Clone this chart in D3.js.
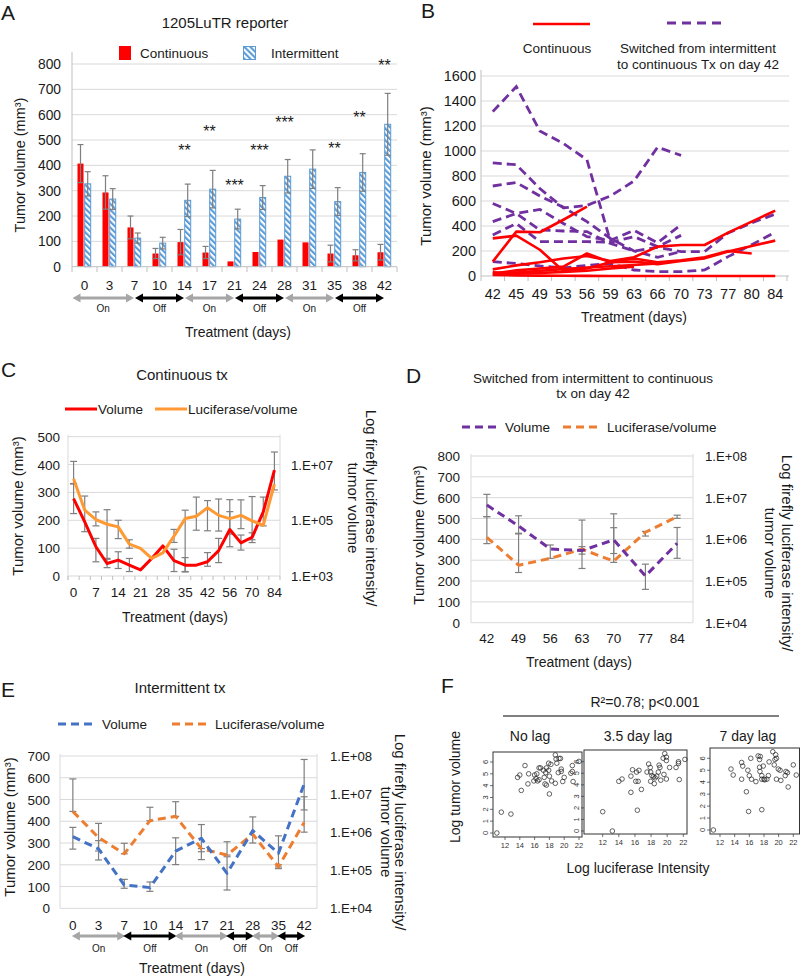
<!DOCTYPE html>
<html><head><meta charset="utf-8">
<script src="https://cdn.jsdelivr.net/npm/d3@7"></script>
<style>
body{margin:0;background:#fff;}
svg{display:block;font-family:"Liberation Sans",Arial,sans-serif;}
</style></head><body>
<svg id="c" width="800" height="980"></svg>
<script>
// ---------------- DATA ----------------
// Panel A
const daysA = ["0","3","7","10","14","17","21","24","28","31","35","38","42"];
const contMean = [407,293,155,52,97,56,21,58,107,96,52,45,57];
const contErr  = [75,66,45,20,50,24,0,0,0,0,33,22,31];
const intMean  = [327,267,113,93,262,306,188,273,357,385,257,372,562];
const intErr   = [48,41,20,23,64,74,39,47,66,76,55,74,122];
const starsA = [
  {day:"14",label:"**",v:471},{day:"17",label:"**",v:549},{day:"21",label:"***",v:335},
  {day:"24",label:"***",v:474},{day:"28",label:"***",v:581},{day:"35",label:"**",v:482},
  {day:"38",label:"**",v:601},{day:"42",label:"**",v:807}];
const phasesA = [{from:"0",to:"7",label:"On"},{from:"7",to:"14",label:"Off"},{from:"14",to:"21",label:"On"},
  {from:"21",to:"28",label:"Off"},{from:"28",to:"35",label:"On"},{from:"35",to:"42",label:"Off"}];
const ticksA = [0,100,200,300,400,500,600,700,800];

// Panel B
const daysB = ["42","45","49","53","56","59","63","66","70","73","77","80","84"];
const switchedLines = [
  [1315,1515,1160,1060,930,275,null,null,null,null,null,null,null],
  [905,890,700,545,565,640,760,1030,965,null,null,null,null],
  [720,748,640,550,435,300,200,150,195,null,null,null,null],
  [580,500,368,360,355,260,200,230,195,195,345,425,495],
  [435,500,533,420,315,285,365,265,410,null,null,null,null],
  [328,420,275,275,275,270,315,235,325,null,null,null,null],
  [115,100,80,65,85,100,48,35,35,48,155,250,350]
];
const continuousLines = [
  [115,355,350,450,555,null,null,null,null,null,null,null,null],
  [301,323,210,40,60,110,140,110,125,150,200,180,null],
  [53,85,110,140,160,120,150,235,248,248,347,435,523],
  [20,45,60,75,180,110,115,95,120,141,195,240,283],
  [10,28,42,55,68,78,88,100,null,null,null,null,null],
  [8,5,3,2,1,0,0,0,0,0,0,0,0],
  [30,22,25,32,42,60,75,null,null,null,null,null,null]
];
const ticksB = [0,200,400,600,800,1000,1200,1400,1600];

// Panel C
const daysC = ["0","3","7","10","14","17","21","24","28","31","35","38","42","49","56","63","70","77","84"];
const volC = [278,194,105,45,57,39,22,63,108,55,39,39,51,91,167,119,139,230,380];
const volErrC = [[224,332],[159,287],[51,135],[30,60],[27,87],[16,63],null,null,null,[16,96],[16,66],null,[35,84],[48,135],[105,231],[93,147],[120,155],null,[309,445]];
const lucC = [3.1e6,2.3e5,1.05e5,7.2e4,5.8e4,1.4e4,9.8e3,4.3e3,6.8e3,2.7e4,1.15e5,1.4e5,2.8e5,1.5e5,1.15e5,1.5e5,9.5e4,6.6e4,2.0e6];
const lucErrC = [[2.0e6,1.3e7],null,[6.3e4,2.0e5],[4.3e3,2.4e5],[2.2e4,1.0e5],[1.0e4,2.0e4],null,null,null,[1.6e4,4.7e4],[1.4e3,2.3e5],[4.4e4,6.8e5],[4.2e4,5.1e5],[4.1e4,5.8e5],[3.2e4,5.5e5],[5.0e4,5.4e5],[2.0e4,7.1e5],[6.3e4,6.8e5],null];
const ticksC = [0,100,200,300,400,500];
const ticksCR = [1e3,1e5,1e7];

// Panel D
const daysD = ["42","49","56","63","70","77","84"];
const volD = [565,464,354,346,398,224,381];
const volErrD = [[509,616],[426,513],[309,373],[329,365],[332,456],[160,281],[309,457]];
const lucD = [1.12e6,2.4e5,3.5e5,5.8e5,3.0e5,1.48e6,3.5e6];
const lucErrD = [[7.9e5,3.5e6],[1.6e5,1.4e6],null,[2.0e5,2.9e6],[2.8e5,4.1e6],[1.2e6,1.55e6],[3.2e6,3.8e6]];
const ticksD = [0,100,200,300,400,500,600,700,800];
const ticksDR = [1e4,1e5,1e6,1e7,1e8];

// Panel E
const daysE = ["0","3","7","10","14","17","21","28","35","42"];
const volE = [329,273,107,95,263,322,161,357,253,571];
const volErrE = [[272,372],[222,311],[92,133],[78,121],[201,324],[260,385],[84,237],[300,420],[190,333],[452,684]];
const lucE = [3.5e6,7.2e5,2.7e5,2.0e6,2.6e6,3.7e5,2.5e5,8.9e5,1.23e5,1.8e6];
const lucErrE = [[3.5e6,2.5e7],[3.2e5,1.7e6],[2.7e5,5.1e5],[2.0e6,4.5e6],[2.6e6,6.3e6],[1.9e5,3.7e5],[2.5e5,5.6e5],null,[1.1e5,1.4e5],[1.0e6,8.5e6]];
const phasesE = [{from:"0",to:"7",label:"On"},{from:"7",to:"14",label:"Off"},{from:"14",to:"21",label:"On"},
  {from:"21",to:"28",label:"Off"},{from:"28",to:"35",label:"On"},{from:"35",to:"42",label:"Off"}];
const ticksE = [0,100,200,300,400,500,600,700];
const ticksER = [1e4,1e5,1e6,1e7,1e8];

// Panel F (log luciferase intensity, log tumor volume)
const fNoLag = [[10.9,0],[11.5,1.76],[12.8,1.6],[13.7,4.7],[14.0,4.9],[14.2,3.6],[14.7,5.7],[15.2,5.0],[15.1,4.15],[15.9,4.4],[16.0,4.9],[16.3,5.0],[16.2,4.6],[16.4,4.4],[16.6,5.5],[16.8,5.5],[16.6,4.5],[17.2,5.3],[17.3,4.7],[17.5,5.1],[17.6,5.5],[17.4,4.15],[17.6,4.05],[17.9,5.9],[17.9,5.3],[18.0,4.8],[18.0,3.3],[18.2,5.8],[18.3,4.4],[18.8,6.6],[18.9,6.25],[19.0,5.9],[18.8,4.2],[19.2,5.1],[19.3,6.3],[19.5,6.3],[19.6,5.4],[19.6,5.2],[19.8,4.35],[20.0,4.7],[20.9,5.05],[21.1,5.7],[21.1,5.2],[21.2,4.35],[22.0,6.05]];
const fLag35 = [[12.0,1.67],[13.2,0],[14.0,4.3],[14.4,4.5],[15.5,3.35],[15.5,4.75],[15.7,5.3],[16.1,4.3],[16.3,1.8],[16.4,4.3],[16.2,5.1],[16.5,5.25],[16.8,3.6],[17.5,5.1],[17.7,5.8],[17.9,5.5],[17.95,5.1],[18.1,4.8],[17.95,4.3],[18.3,4.7],[18.4,4.1],[18.5,4.6],[18.7,4.75],[18.9,5.1],[19.0,5.7],[19.1,5.5],[19.2,4.4],[19.5,6.3],[19.6,4.9],[19.7,6.7],[19.9,6.4],[19.9,6.1],[19.9,4.5],[20.3,5.5],[21.1,5.5],[21.4,6.0],[21.4,5.85],[21.5,4.45],[22.2,6.2]];
const fLag7 = [[11.1,0],[13.5,5.1],[13.8,4.6],[14.95,5.65],[15.1,5.35],[14.95,4.25],[15.6,3.2],[15.9,1.55],[15.8,5.0],[16.0,4.55],[16.2,6.0],[16.3,4.25],[16.9,4.05],[17.2,6.2],[17.4,5.9],[17.4,5.25],[17.45,4.9],[17.5,6.15],[17.7,4.55],[17.7,4.25],[17.7,1.7],[17.9,5.35],[18.0,4.25],[18.1,4.2],[18.4,4.25],[18.6,4.55],[18.7,5.7],[19.2,6.55],[19.4,5.45],[19.5,5.9],[19.6,6.3],[19.7,6.0],[19.7,4.25],[19.95,5.1],[20.2,5.0],[20.3,4.15],[20.9,4.55],[21.0,4.9],[21.2,4.8],[21.3,3.6],[22.0,5.45],[22.4,4.6]];
const fTicksX = [12,14,16,18,20,22];
const fTicksY = [0,1,2,3,4,5,6];

// ---------------- DRAWING ----------------
const svg = d3.select("#c");
svg.append("rect").attr("width",800).attr("height",980).attr("fill","#fff");
const TXT = "#1a1a1a", GRID = "#d9d9d9", AX = "#bfbfbf", ERR = "#7f7f7f";
const RED = "#ff0000", PURPLE = "#7030a0", ORANGE_L = "#ff9933", ORANGE = "#ed7d31", BLUE = "#4472c4", LBLUE = "#5b9bd5";

const defs = svg.append("defs");
const pat = defs.append("pattern").attr("id","hatch").attr("patternUnits","userSpaceOnUse")
  .attr("width",4.2).attr("height",4.2).attr("patternTransform","rotate(-45)");
pat.append("rect").attr("width",4.2).attr("height",4.2).attr("fill","#fff");
pat.append("rect").attr("width",2.1).attr("height",4.2).attr("fill",LBLUE);

function text(g, x, y, s, size, anchor, opts={}) {
  const t = g.append("text").attr("x",x).attr("y",y).attr("font-size",size)
    .attr("text-anchor",anchor||"start").attr("fill",opts.fill||TXT).text(s);
  return t;
}
function rotText(g, x, y, s, size, angle) {
  return g.append("text").attr("transform",`translate(${x},${y}) rotate(${angle})`)
    .attr("text-anchor","middle").attr("font-size",size).attr("fill",TXT).text(s);
}
function arrow(g, xa, xb, y, color) {
  const h = 4.6, L = 8;
  g.append("line").attr("x1",xa+L-1).attr("x2",xb-L+1).attr("y1",y).attr("y2",y)
    .attr("stroke",color).attr("stroke-width",3.2);
  g.append("path").attr("d",`M${xa},${y}L${xa+L},${y-h}L${xa+L},${y+h}Z`).attr("fill",color);
  g.append("path").attr("d",`M${xb},${y}L${xb-L},${y-h}L${xb-L},${y+h}Z`).attr("fill",color);
}
function errBar(g, x, y1, y2, cap) {
  cap = cap || 3;
  g.append("line").attr("x1",x).attr("x2",x).attr("y1",y1).attr("y2",y2).attr("stroke",ERR).attr("stroke-width",1.2);
  [y1,y2].forEach(y => g.append("line").attr("x1",x-cap).attr("x2",x+cap).attr("y1",y).attr("y2",y)
    .attr("stroke",ERR).attr("stroke-width",1.2));
}
function gridY(g, scale, ticks, x0, x1) {
  ticks.forEach(t => g.append("line").attr("x1",x0).attr("x2",x1).attr("y1",scale(t)).attr("y2",scale(t))
    .attr("stroke",GRID).attr("stroke-width",1));
}
function expLabel(v){ const e = Math.round(Math.log10(v)); return "1.E+" + String(e).padStart(2,"0"); }

// ===== Panel A =====
(function(){
  const g = svg.append("g");
  const x = d3.scaleBand().domain(daysA).range([72,397]);
  const y = d3.scaleLinear().domain([0,800]).range([266.7,64]);
  const c = d => x(d) + x.bandwidth()/2;
  text(g,1,20,"A",21);
  text(g,225,28,"1205LuTR reporter",15,"middle");
  g.append("rect").attr("x",119).attr("y",46).attr("width",12).attr("height",14).attr("fill",RED);
  text(g,140,58,"Continuous",13.5);
  g.append("rect").attr("x",243.5).attr("y",46.5).attr("width",12).attr("height",13).attr("fill","url(#hatch)").attr("stroke",LBLUE).attr("stroke-width",1);
  text(g,271,58,"Intermittent",13.5);
  gridY(g,y,ticksA.slice(1),72,397);
  g.append("line").attr("x1",72).attr("x2",72).attr("y1",52).attr("y2",266.7).attr("stroke",AX);
  ticksA.forEach(t => text(g,61,y(t)+5,String(t),13.8,"end"));
  daysA.forEach((d,i) => {
    const cx = c(d);
    g.append("rect").attr("x",cx-7).attr("width",6).attr("y",y(contMean[i])).attr("height",y(0)-y(contMean[i])).attr("fill",RED);
    g.append("rect").attr("x",cx+0.2).attr("width",6).attr("y",y(intMean[i])).attr("height",y(0)-y(intMean[i]))
      .attr("fill","url(#hatch)").attr("stroke",LBLUE).attr("stroke-width",1);
  });
  daysA.forEach((d,i) => {
    const cx = c(d);
    if (contErr[i] > 0) errBar(g,cx-4,y(contMean[i]+contErr[i]),y(Math.max(0,contMean[i]-contErr[i])),3);
    errBar(g,cx+3.2,y(intMean[i]+intErr[i]),y(intMean[i]-intErr[i]),3);
  });
  g.append("line").attr("x1",72).attr("x2",397).attr("y1",266.7).attr("y2",266.7).attr("stroke",AX);
  d3.range(daysA.length+1).forEach(i => {
    const xx = 72 + i*x.bandwidth();
    g.append("line").attr("x1",xx).attr("x2",xx).attr("y1",266.7).attr("y2",272).attr("stroke",AX);
  });
  daysA.forEach(d => text(g,c(d),289.5,d,13.5,"middle"));
  starsA.forEach(s => text(g,c(s.day),y(s.v)+9,s.label,16,"middle"));
  phasesA.forEach((p,i) => {
    const xa = i===0 ? 72 : c(p.from), xb = c(p.to);
    arrow(g,xa+0.5,xb-0.5,298,p.label==="On"?"#a6a6a6":"#000");
    text(g,(xa+xb)/2,312,p.label,10,"middle");
  });
  text(g,238,337,"Treatment (days)",14,"middle");
  rotText(g,25,165,"Tumor volume (mm³)",14.5,-90);
})();

// ===== Panel B =====
(function(){
  const g = svg.append("g");
  const x = d3.scalePoint().domain(daysB).range([481,787]).padding(0.5);
  const y = d3.scaleLinear().domain([0,1600]).range([276,76]);
  text(g,421,18,"B",21);
  g.append("line").attr("x1",533).attr("x2",590).attr("y1",24).attr("y2",24).attr("stroke",RED).attr("stroke-width",2.5);
  g.append("line").attr("x1",667).attr("x2",724).attr("y1",23).attr("y2",23).attr("stroke",PURPLE).attr("stroke-width",2.8).attr("stroke-dasharray","9,6");
  text(g,557,53,"Continuous",13.5,"middle");
  text(g,698,53,"Switched from intermittent",13.5,"middle");
  text(g,698,69,"to continuous Tx on day 42",13.5,"middle");
  gridY(g,y,ticksB.slice(1),481,789);
  g.append("line").attr("x1",481).attr("x2",481).attr("y1",70).attr("y2",276).attr("stroke",AX);
  g.append("line").attr("x1",481).attr("x2",789).attr("y1",276).attr("y2",276).attr("stroke",AX);
  const step = x.step();
  d3.range(daysB.length+1).forEach(i => {
    const xx = 481 + i*step;
    g.append("line").attr("x1",xx).attr("x2",xx).attr("y1",276).attr("y2",281).attr("stroke",AX);
  });
  ticksB.forEach(t => text(g,476,y(t)+5,String(t),14.5,"end"));
  daysB.forEach(d => text(g,x(d),298.5,d,14.5,"middle"));
  const line = d3.line().defined(v => v !== null).x((v,i) => x(daysB[i])).y(v => y(v));
  switchedLines.forEach(s => g.append("path").attr("d",line(s)).attr("fill","none").attr("stroke",PURPLE)
    .attr("stroke-width",2.8).attr("stroke-dasharray","9,5"));
  continuousLines.forEach(s => g.append("path").attr("d",line(s)).attr("fill","none").attr("stroke",RED)
    .attr("stroke-width",2.6).attr("stroke-linejoin","round"));
  text(g,634,322,"Treatment (days)",14,"middle");
  rotText(g,431,176,"Tumor volume (mm³)",15,-90);
})();

// ===== Generic dual axis panel =====
function dualPanel(o) {
  const g = svg.append("g");
  const x = d3.scaleBand().domain(o.cats).range([o.x0,o.x1]);
  const c = d => x(d) + x.bandwidth()/2;
  const y = d3.scaleLinear().domain([0,o.leftMax]).range([o.yBot,o.yTop]);
  const yr = d3.scaleLog().domain(o.logDomain).range([o.yBot,o.yTop]).clamp(true);
  gridY(g,y,o.leftTicks,o.x0,o.x1);
  g.append("line").attr("x1",o.x0).attr("x2",o.x0).attr("y1",o.yTop-2).attr("y2",o.yBot+(o.tickMarks?4:0)).attr("stroke",GRID);
  g.append("line").attr("x1",o.x1).attr("x2",o.x1).attr("y1",o.yTop-2).attr("y2",o.yBot).attr("stroke",GRID);
  if (o.tickMarks) d3.range(o.cats.length+1).forEach(i => {
    const xx = o.x0 + i*x.bandwidth();
    g.append("line").attr("x1",xx).attr("x2",xx).attr("y1",o.yBot).attr("y2",o.yBot+4).attr("stroke",AX);
  });
  o.leftTicks.forEach(t => text(g,o.leftLabelX,y(t)+5,String(t),13.5,"end"));
  o.rightTicks.forEach(t => text(g,o.rightLabelX,yr(t)+5,expLabel(t),13.2,"start"));
  o.cats.forEach((d,i) => { if (i % o.labelEvery === 0) text(g,c(d),o.xLabelY,d,13.5,"middle"); });
  o.cats.forEach((d,i) => {
    if (o.volErr[i]) errBar(g,c(d),y(o.volErr[i][1]),y(o.volErr[i][0]),3.5);
    if (o.lucErr[i]) errBar(g,c(d),yr(o.lucErr[i][1]),yr(o.lucErr[i][0]),3.5);
  });
  const lv = d3.line().x((v,i) => c(o.cats[i])).y(v => y(v));
  const ll = d3.line().x((v,i) => c(o.cats[i])).y(v => yr(v));
  const dash = o.dashed ? "8,5" : null;
  const order = o.lucFirst ? ["luc","vol"] : ["vol","luc"];
  order.forEach(k => {
    const p = g.append("path").attr("fill","none").attr("stroke-width",3).attr("stroke-linejoin","round");
    if (k==="vol") p.attr("d",lv(o.vol)).attr("stroke",o.volColor);
    else p.attr("d",ll(o.luc)).attr("stroke",o.lucColor);
    if (dash) p.attr("stroke-dasharray",dash);
  });
  return {g, c};
}

// ===== Panel C =====
(function(){
  const {g} = dualPanel({cats:daysC,x0:68,x1:280,yTop:436.7,yBot:576,leftMax:500,leftTicks:ticksC,
    logDomain:[1e3,1e8],rightTicks:ticksCR,leftLabelX:60,rightLabelX:291,xLabelY:597,labelEvery:2,tickMarks:true,
    vol:volC,volErr:volErrC,luc:lucC,lucErr:lucErrC,volColor:RED,lucColor:ORANGE_L,dashed:false,lucFirst:false});
  text(g,1,377,"C",21);
  text(g,182,380,"Continuous tx",15,"middle");
  g.append("line").attr("x1",65).attr("x2",97).attr("y1",409).attr("y2",409).attr("stroke",RED).attr("stroke-width",3);
  text(g,98,414,"Volume",13.5);
  g.append("line").attr("x1",155).attr("x2",187).attr("y1",409).attr("y2",409).attr("stroke",ORANGE_L).attr("stroke-width",3);
  text(g,188,414,"Luciferase/volume",13.5);
  text(g,175,622,"Treatment (days)",14,"middle");
  rotText(g,23,506,"Tumor volume (mm³)",15,-90);
  rotText(g,366,508,"Log firefly luciferase intensity/",15,90);
  rotText(g,348,508,"tumor volume",15,90);
})();

// ===== Panel D =====
(function(){
  const {g} = dualPanel({cats:daysD,x0:471,x1:693,yTop:456,yBot:622.7,leftMax:800,leftTicks:ticksD,
    logDomain:[1e4,1e8],rightTicks:ticksDR,leftLabelX:460,rightLabelX:705,xLabelY:643,labelEvery:1,tickMarks:false,
    vol:volD,volErr:volErrD,luc:lucD,lucErr:lucErrD,volColor:PURPLE,lucColor:ORANGE,dashed:true,lucFirst:true});
  text(g,406,383,"D",21);
  text(g,593,383,"Switched from intermittent to continuous",13.5,"middle");
  text(g,593,398,"tx on day 42",13.5,"middle");
  g.append("line").attr("x1",462).attr("x2",497).attr("y1",427).attr("y2",427).attr("stroke",PURPLE).attr("stroke-width",3).attr("stroke-dasharray","8,5");
  text(g,505,432,"Volume",13.5);
  g.append("line").attr("x1",563).attr("x2",599).attr("y1",427).attr("y2",427).attr("stroke",ORANGE).attr("stroke-width",3).attr("stroke-dasharray","8,5");
  text(g,607,432,"Luciferase/volume",13.5);
  text(g,579,667,"Treatment (days)",14,"middle");
  rotText(g,424,535,"Tumor volume (mm³)",15,-90);
  rotText(g,782,553,"Log firefly luciferase intensity/",15,90);
  rotText(g,765,553,"tumor volume",15,90);
})();

// ===== Panel E =====
(function(){
  const {g, c} = dualPanel({cats:daysE,x0:60,x1:317,yTop:756,yBot:908.3,leftMax:700,leftTicks:ticksE,
    logDomain:[1e4,1e8],rightTicks:ticksER,leftLabelX:50,rightLabelX:330,xLabelY:930,labelEvery:1,tickMarks:false,
    vol:volE,volErr:volErrE,luc:lucE,lucErr:lucErrE,volColor:BLUE,lucColor:ORANGE,dashed:true,lucFirst:true});
  text(g,1,697,"E",21);
  text(g,180,693,"Intermittent tx",15,"middle");
  g.append("line").attr("x1",58).attr("x2",93).attr("y1",724).attr("y2",724).attr("stroke",BLUE).attr("stroke-width",3).attr("stroke-dasharray","8,5");
  text(g,102,729,"Volume",13.5);
  g.append("line").attr("x1",172).attr("x2",207).attr("y1",724).attr("y2",724).attr("stroke",ORANGE).attr("stroke-width",3).attr("stroke-dasharray","8,5");
  text(g,215,729,"Luciferase/volume",13.5);
  phasesE.forEach(p => {
    const xa = c(p.from)-1, xb = c(p.to)+1;
    arrow(g,xa,xb,936,p.label==="On"?"#a6a6a6":"#000");
    text(g,(xa+xb)/2,952,p.label,10,"middle");
  });
  text(g,192,973,"Treatment (days)",14,"middle");
  rotText(g,15,827,"Tumor volume (mm³)",15,-90);
  rotText(g,395,832,"Log firefly luciferase intensity/",15,90);
  rotText(g,381,832,"tumor volume",15,90);
})();

// ===== Panel F =====
(function(){
  const g = svg.append("g");
  text(g,441,693,"F",21);
  text(g,645,707,"R²=0.78; p<0.001",14,"middle");
  g.append("line").attr("x1",503).attr("x2",779).attr("y1",716).attr("y2",716).attr("stroke","#000").attr("stroke-width",1);
  const boxes = [
    {title:"No lag",tx:530,box:[493,752,582,837],xr:[505,579],yr:[833,762],pts:fNoLag},
    {title:"3.5 day lag",tx:638,box:[584,750,687,834],xr:[602.7,683.3],yr:[831,761.7],pts:fLag35},
    {title:"7 day lag",tx:748,box:[710,748,799.5,834],xr:[720,793.3],yr:[830,758.3],pts:fLag7}];
  boxes.forEach(b => {
    text(g,b.tx,741,b.title,14,"middle");
    const x = d3.scaleLinear().domain([12,22]).range(b.xr);
    const y = d3.scaleLinear().domain([0,6]).range(b.yr);
    const [l,t,r,bt] = b.box;
    g.append("rect").attr("x",l).attr("y",t).attr("width",r-l).attr("height",bt-t).attr("fill","none").attr("stroke","#333").attr("stroke-width",1);
    fTicksX.forEach(v => {
      g.append("line").attr("x1",x(v)).attr("x2",x(v)).attr("y1",bt).attr("y2",bt+3).attr("stroke","#333").attr("stroke-width",0.7);
      text(g,x(v),bt+11,String(v),7.5,"middle",{fill:"#333"});
    });
    fTicksY.forEach(v => {
      g.append("line").attr("x1",l-3).attr("x2",l).attr("y1",y(v)).attr("y2",y(v)).attr("stroke","#333").attr("stroke-width",0.7);
      g.append("text").attr("transform",`translate(${l-5},${y(v)}) rotate(-90)`).attr("text-anchor","middle")
        .attr("font-size",7.5).attr("fill","#333").text(String(v));
    });
    b.pts.forEach(p => g.append("circle").attr("cx",x(p[0])).attr("cy",y(p[1])).attr("r",2.3)
      .attr("fill","none").attr("stroke","#222").attr("stroke-width",0.7));
  });
  rotText(g,460,787,"Log tumor volume",14,-90);
  text(g,638,873,"Log luciferase Intensity",14,"middle");
})();
</script></body></html>
